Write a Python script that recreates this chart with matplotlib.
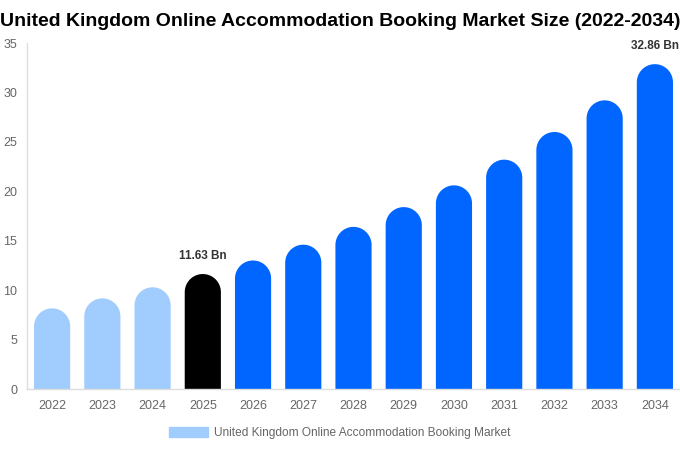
import matplotlib.pyplot as plt
from matplotlib.patches import Patch, PathPatch
from matplotlib.path import Path
import numpy as np

plt.rcParams['font.family'] = ['Liberation Sans', 'DejaVu Sans']

## data
years = ['2022', '2023', '2024', '2025', '2026', '2027', '2028',
         '2029', '2030', '2031', '2032', '2033', '2034']
values = [8.16, 9.17, 10.29, 11.63, 13.0, 14.6, 16.4,
          18.4, 20.6, 23.2, 26.0, 29.2, 32.86]
labelled = {'2025': '11.63 Bn', '2034': '32.86 Bn'}
series_name = 'United Kingdom Online Accommodation Booking Market'

light = '#a0cdfd'
blue = '#0066ff'
colors = [light if int(y) < 2025 else ('#000000' if y == '2025' else blue)
          for y in years]

## plotting
W, H = 680, 450
fig = plt.figure(figsize=(W / 100, H / 100), dpi=100)
ax_l, ax_r, ax_b, ax_t = 27, 680, 389, 43
ax = fig.add_axes([ax_l / W, (H - ax_b) / H, (ax_r - ax_l) / W, (ax_b - ax_t) / H])

ymax = 35
x = np.arange(len(years))
bar_w = 0.72

# height of the round cap in data units (half bar width in pixels)
px_per_x = (ax_r - ax_l) / len(years)
px_per_y = (ax_b - ax_t) / ymax
cap_r = bar_w * px_per_x / 2 / px_per_y

# bar outline: square bottom, half-ellipse top (round on screen)
theta = np.linspace(0, np.pi, 40)
for xi, v, c in zip(x, values, colors):
    hw = bar_w / 2
    top = v - cap_r
    xs = np.concatenate([[xi - hw, xi + hw], xi + hw * np.cos(theta)])
    ys = np.concatenate([[0, 0], top + cap_r * np.sin(theta)])
    verts = np.column_stack([xs, ys])
    ax.add_patch(PathPatch(Path(np.vstack([verts, verts[:1]]), closed=True),
                           facecolor=c, edgecolor='none'))

for xi, y, v in zip(x, years, values):
    if y in labelled:
        ax.text(xi, v + 1.2, labelled[y], ha='center', va='bottom',
                fontsize=8.5, fontweight='bold', color='#333333')

ax.set_xlim(-0.5, len(years) - 0.5)
ax.set_ylim(0, ymax)
ax.set_yticks(range(0, 36, 5))
ax.set_xticks(x)
ax.set_xticklabels(years)
ax.tick_params(length=0, labelsize=9, colors='#666666')
ax.tick_params(axis='x', pad=8)
ax.tick_params(axis='y', pad=7)

for s in ['top', 'right']:
    ax.spines[s].set_visible(False)
for s in ['left', 'bottom']:
    ax.spines[s].set_color('#dddddd')
    ax.spines[s].set_linewidth(1)

fig.text(0.5, 1 - 21 / H, 'United Kingdom Online Accommodation Booking Market Size (2022-2034)',
         ha='center', va='center', fontsize=14, fontweight='bold', color='#000000')

ax.legend(handles=[Patch(color=light, label=series_name)],
          loc='center', bbox_to_anchor=(340 / W, 1 - 433 / H), bbox_transform=fig.transFigure,
          frameon=False, fontsize=8.6, labelcolor='#666666',
          handlelength=3.3, handleheight=1.0, handletextpad=0.5)

plt.savefig('out.png', dpi=100)
